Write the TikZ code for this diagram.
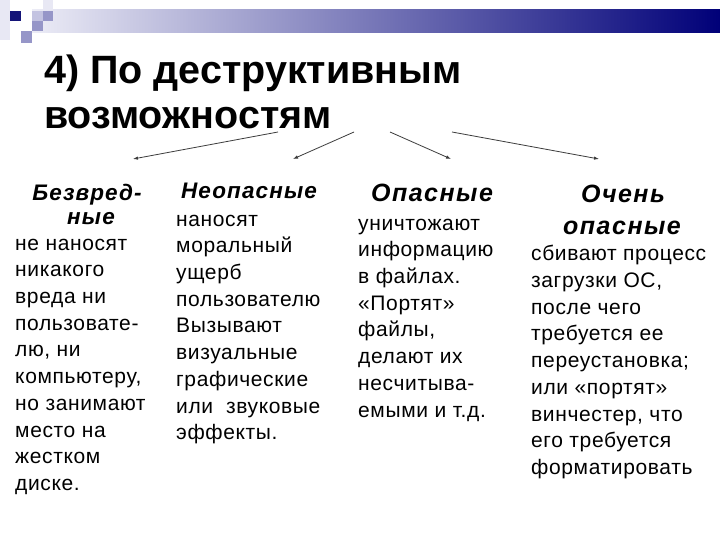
\documentclass[tikz,border=0pt]{standalone}
\usepackage{fontspec}
\setmainfont{Liberation Sans}
\usetikzlibrary{arrows.meta}
\definecolor{barL}{RGB}{236,236,246}
\definecolor{barR}{RGB}{0,0,120}
\definecolor{sqdark}{RGB}{20,20,120}
\definecolor{sqmid}{RGB}{150,150,200}
\definecolor{sqlight}{RGB}{195,195,225}
\definecolor{sqpale}{RGB}{232,232,244}
\definecolor{arrowgray}{RGB}{60,60,60}
\tikzset{
  body/.style={anchor=north west, inner sep=0pt, align=left,
    font=\fontsize{21}{26.7}\selectfont\addfontfeatures{LetterSpace=3}},
  headA/.style={anchor=base, inner sep=0pt,
    font=\fontsize{22.5}{25}\selectfont\bfseries\itshape\addfontfeatures{LetterSpace=5}},
  headB/.style={anchor=base, inner sep=0pt,
    font=\fontsize{25}{30}\selectfont\bfseries\itshape\addfontfeatures{LetterSpace=6}},
  titletext/.style={anchor=base west, inner sep=0pt,
    font=\fontsize{39.5}{42}\selectfont\bfseries},
  conn/.style={draw=arrowgray, line width=0.8pt, -{Latex[length=5pt,width=3.5pt]}}
}
\begin{document}
\begin{tikzpicture}[x=1pt,y=-1pt]
\useasboundingbox (0,0) rectangle (720,540);
\fill[white] (0,0) rectangle (720,540);
% header decoration
\fill[sqpale] (0,0) rectangle (10,40);
\shade[left color=barL, right color=barR] (32,10) rectangle (720,33);
\fill[sqpale] (43,0) rectangle (53,10);
\fill[sqdark] (10,11) rectangle (21,21);
\fill[sqlight] (32,11) rectangle (43,21);
\fill[sqmid] (43,11) rectangle (53,21);
\fill[sqmid] (32,21) rectangle (43,31);
\fill[sqmid] (21,31) rectangle (32,43);
% title
\node[titletext] (t1) at (44,84) {4) По деструктивным};
\node[titletext] (t2) at (44,128.5) {возможностям};
% arrows
\coordinate (s1) at (278,132); \coordinate (e1) at (133,159);
\coordinate (s2) at (354,132); \coordinate (e2) at (293,159);
\coordinate (s3) at (390,132); \coordinate (e3) at (451,159);
\coordinate (s4) at (452,132); \coordinate (e4) at (599,159);
\draw[conn] (s1) -- (e1);
\draw[conn] (s2) -- (e2);
\draw[conn] (s3) -- (e3);
\draw[conn] (s4) -- (e4);
% column 1
\node[headA] (h1a) at (87,201) {Безвред-};
\node[headA] (h1b) at (91,225) {ные};
\node[body] (b1) at (15,231.3) {\strut не наносят\\никакого\\вреда ни\\пользовате-\\лю, ни\\компьютеру,\\но занимают\\место на\\жестком\\диске.};
% column 2
\node[headA] (h2) at (249,198.5) {Неопасные};
\node[body] (b2) at (176,207.3) {\strut наносят\\моральный\\ущерб\\пользователю\\Вызывают\\визуальные\\графические\\или\ \ звуковые\\эффекты.};
% column 3
\node[headB] (h3) at (432,201.7) {Опасные};
\node[body] (b3) at (358,211.3) {\strut уничтожают\\информацию\\в файлах.\\«Портят»\\файлы,\\делают их\\несчитыва-\\емыми и т.д.};
% column 4
\node[headB] (h4a) at (623,203) {Очень};
\node[headB] (h4b) at (622,235) {опасные};
\node[body] (b4) at (531,242) {\strut сбивают процесс\\загрузки ОС,\\после чего\\требуется ее\\переустановка;\\или «портят»\\винчестер, что\\его требуется\\форматировать};
\end{tikzpicture}
\end{document}
